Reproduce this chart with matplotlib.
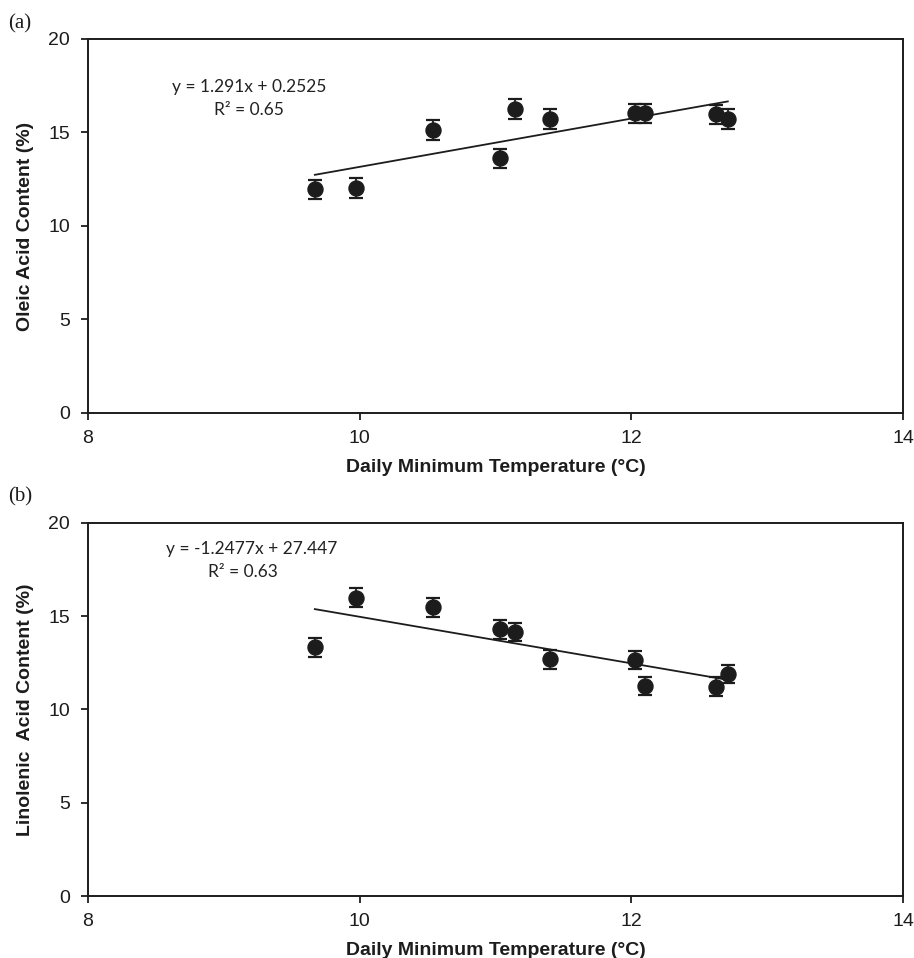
import matplotlib
matplotlib.use("Agg")
import matplotlib.pyplot as plt
import numpy as np

# Daily minimum temperature (°C) per site/season
temp = [9.67, 9.97, 10.54, 11.03, 11.14, 11.40, 12.03, 12.10, 12.62, 12.71]

# panel (a): oleic acid content (%)
oleic = [11.96, 12.02, 15.13, 13.62, 16.26, 15.72, 16.03, 16.03, 15.97, 15.72]
oleic_err = [0.52, 0.52, 0.52, 0.52, 0.52, 0.52, 0.52, 0.52, 0.52, 0.52]
oleic_fit = (1.291, 0.2525)
oleic_r2 = "0.65"

# panel (b): linolenic acid content (%)
linolenic = [13.34, 16.00, 15.48, 14.30, 14.16, 12.69, 12.65, 11.26, 11.22, 11.90]
linolenic_err = [0.5, 0.5, 0.5, 0.5, 0.5, 0.5, 0.5, 0.5, 0.5, 0.5]
linolenic_fit = (-1.2477, 27.447)
linolenic_r2 = "0.63"

xticks = [8, 10, 12, 14]
yticks = [0, 5, 10, 15, 20]

INK = "#1c1c1c"
SANS = ["Liberation Sans", "DejaVu Sans"]
EQ_FONT = ["Lato", "DejaVu Sans"]

fig = plt.figure(figsize=(9.14, 9.58), dpi=100)
ax_a = fig.add_axes([0.0963, 0.5689, 0.8917, 0.3904])
ax_b = fig.add_axes([0.0963, 0.0647, 0.8917, 0.3894])


def draw(ax, y, yerr, fit, r2, ylabel, eq_xy, tag):
    ax.errorbar(temp, y, yerr=yerr, fmt="o", color=INK, ms=10.8,
                ecolor=INK, elinewidth=1.3, capsize=5, capthick=1.6, zorder=3)
    slope, icpt = fit
    xs = np.array([min(temp), max(temp)])
    ax.plot(xs, slope * xs + icpt, color=INK, lw=1.3, zorder=2)

    sign = "-" if icpt < 0 else "+"
    eq = f"y = {slope:g}x {sign} {abs(icpt):g}"
    ax.text(eq_xy[0], eq_xy[1], eq, ha="center", va="center", fontsize=12.5,
            family=EQ_FONT, color="#222222", transform=fig.transFigure)
    ax.text(eq_xy[2], eq_xy[3], f"R\u00b2 = {r2}", ha="center", va="center",
            fontsize=12.5, family=EQ_FONT, color="#222222", transform=fig.transFigure)

    ax.set_xlim(8, 14)
    ax.set_ylim(0, 20)
    ax.set_xticks(xticks)
    ax.set_yticks(yticks)
    ax.set_xticklabels([str(t) for t in xticks], family=SANS, fontsize=14, color=INK)
    ax.set_yticklabels([str(t) for t in yticks], family=SANS, fontsize=14, color=INK)
    ax.tick_params(direction="out", length=5, width=1.3, color=INK,
                   top=False, right=False)
    ax.tick_params(axis="x", pad=7)
    ax.tick_params(axis="y", pad=8)
    for s in ax.spines.values():
        s.set_linewidth(1.4)
        s.set_color(INK)
    ax.set_xlabel("Daily Minimum Temperature (\u00b0C)", family=SANS,
                  fontweight="bold", fontsize=14, color=INK, labelpad=9)
    ax.set_ylabel(ylabel, family=SANS, fontweight="bold", fontsize=14,
                  color=INK, labelpad=10)
    fig.text(tag[0], tag[1], tag[2], family=["Liberation Serif", "DejaVu Serif"],
             fontsize=15, color=INK, ha="left", va="center")


draw(ax_a, oleic, oleic_err, oleic_fit, oleic_r2, "Oleic Acid Content (%)",
     (249 / 914, 1 - 87 / 958, 249 / 914, 1 - 110 / 958), (8 / 914, 1 - 24 / 958, "(a)"))
draw(ax_b, linolenic, linolenic_err, linolenic_fit, linolenic_r2,
     "Linolenic  Acid Content (%)",
     (252 / 914, 1 - 549 / 958, 243 / 914, 1 - 572 / 958), (8 / 914, 1 - 497 / 958, "(b)"))

fig.savefig("out.png", dpi=100)
